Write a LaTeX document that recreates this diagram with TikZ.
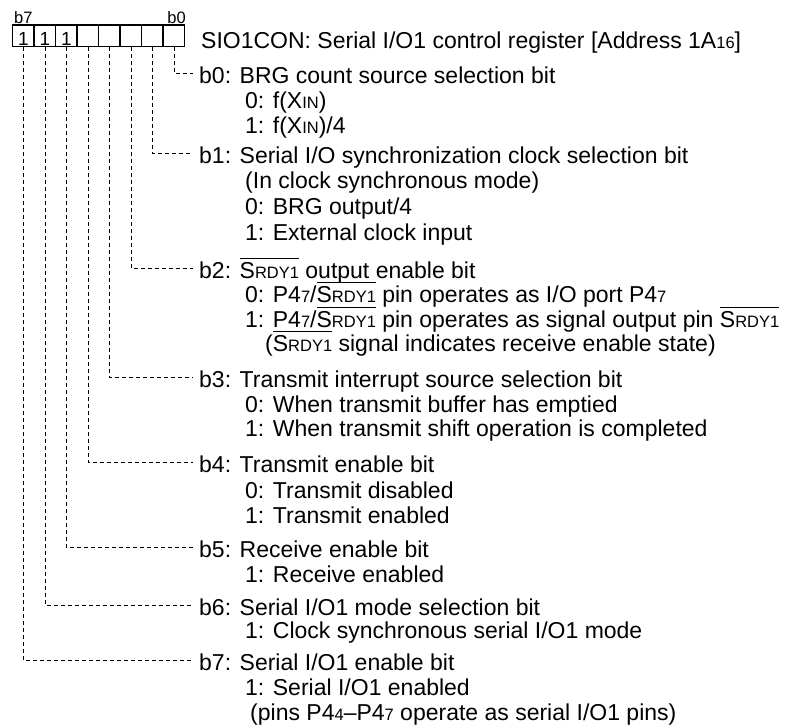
\documentclass[tikz,border=0pt]{standalone}
\usepackage{fontspec}
\setmainfont{Liberation Sans}
\newcommand\sm[1]{{\fontsize{16.5pt}{16.5pt}\selectfont #1}}
\newcommand\ovl[1]{\leavevmode\setbox0=\hbox{#1}\rlap{\rule[19.5pt]{\wd0}{0.9pt}}\box0\relax}
\tikzset{
  txt/.style={anchor=base west, inner sep=0pt, font=\fontsize{23pt}{25pt}\selectfont},
  bitlbl/.style={inner sep=0pt, font=\fontsize{16.5pt}{16.5pt}\selectfont},
  cell/.style={draw, line width=1.5pt, minimum width=21.5pt, minimum height=21.5pt,
    inner sep=0pt, text height=18.8pt, text depth=0pt, font=\fontsize{19pt}{19pt}\selectfont},
  conn/.style={dash pattern=on 4pt off 3pt, line width=0.8pt}
}
\begin{document}
\begin{tikzpicture}[x=1pt,y=-1pt]
\useasboundingbox (0,0) rectangle (789,724);
% register cells
\node[cell] (c7) at (23.45,35.75) {1};
\node[cell] (c6) at (44.95,35.75) {1};
\node[cell] (c5) at (66.45,35.75) {1};
\node[cell] (c4) at (87.95,35.75) {};
\node[cell] (c3) at (109.45,35.75) {};
\node[cell] (c2) at (130.95,35.75) {};
\node[cell] (c1) at (152.45,35.75) {};
\node[cell] (c0) at (173.95,35.75) {};
\node[bitlbl, anchor=base west] (lb7) at (14,23) {b7};
\node[bitlbl, anchor=base east] (lb0) at (186,23) {b0};
% texts
\node[txt] (title) at (201,48) {SIO1CON: Serial I/O1 control register [Address 1A\sm{16}]};
\node[txt] (b0h) at (199,83) {b0: BRG count source selection bit};
\node[txt] (b0a) at (245,108) {0: f(X\sm{IN})};
\node[txt] (b0b) at (245,133) {1: f(X\sm{IN})/4};
\node[txt] (b1h) at (199,163) {b1: Serial I/O synchronization clock selection bit};
\node[txt] (b1a) at (245,188) {(In clock synchronous mode)};
\node[txt] (b1b) at (245,214) {0: BRG output/4};
\node[txt] (b1c) at (245,240) {1: External clock input};
\node[txt] (b2h) at (199,278) {b2: \ovl{S\sm{RDY1}} output enable bit};
\node[txt] (b2a) at (245,302) {0: P4\sm{7}/\ovl{S\sm{RDY1}} pin operates as I/O port P4\sm{7}};
\node[txt] (b2b) at (245,327) {1: P4\sm{7}/\ovl{S\sm{RDY1}} pin operates as signal output pin \ovl{S\sm{RDY1}}};
\node[txt] (b2c) at (265,351) {(\ovl{S\sm{RDY1}} signal indicates receive enable state)};
\node[txt] (b3h) at (199,387) {b3: Transmit interrupt source selection bit};
\node[txt] (b3a) at (245,412) {0: When transmit buffer has emptied};
\node[txt] (b3b) at (245,436) {1: When transmit shift operation is completed};
\node[txt] (b4h) at (199,472) {b4: Transmit enable bit};
\node[txt] (b4a) at (245,498) {0: Transmit disabled};
\node[txt] (b4b) at (245,523) {1: Transmit enabled};
\node[txt] (b5h) at (199,557) {b5: Receive enable bit};
\node[txt] (b5a) at (245,582) {1: Receive enabled};
\node[txt] (b6h) at (199,615) {b6: Serial I/O1 mode selection bit};
\node[txt] (b6a) at (245,638) {1: Clock synchronous serial I/O1 mode};
\node[txt] (b7h) at (199,670) {b7: Serial I/O1 enable bit};
\node[txt] (b7a) at (245,695) {1: Serial I/O1 enabled};
\node[txt] (b7b) at (250,720) {(pins P4\sm{4}--P4\sm{7} operate as serial I/O1 pins)};
% connectors
\draw[conn] (c0.south) |- ([shift={(-6pt,9.5pt)}]b0h.base west);
\draw[conn] (c1.south) |- ([shift={(-6pt,9.5pt)}]b1h.base west);
\draw[conn] (c2.south) |- ([shift={(-6pt,9.5pt)}]b2h.base west);
\draw[conn] (c3.south) |- ([shift={(-6pt,9.5pt)}]b3h.base west);
\draw[conn] (c4.south) |- ([shift={(-6pt,9.5pt)}]b4h.base west);
\draw[conn] (c5.south) |- ([shift={(-6pt,9.5pt)}]b5h.base west);
\draw[conn] (c6.south) |- ([shift={(-6pt,9.5pt)}]b6h.base west);
\draw[conn] (c7.south) |- ([shift={(-6pt,9.5pt)}]b7h.base west);
\end{tikzpicture}
\end{document}
